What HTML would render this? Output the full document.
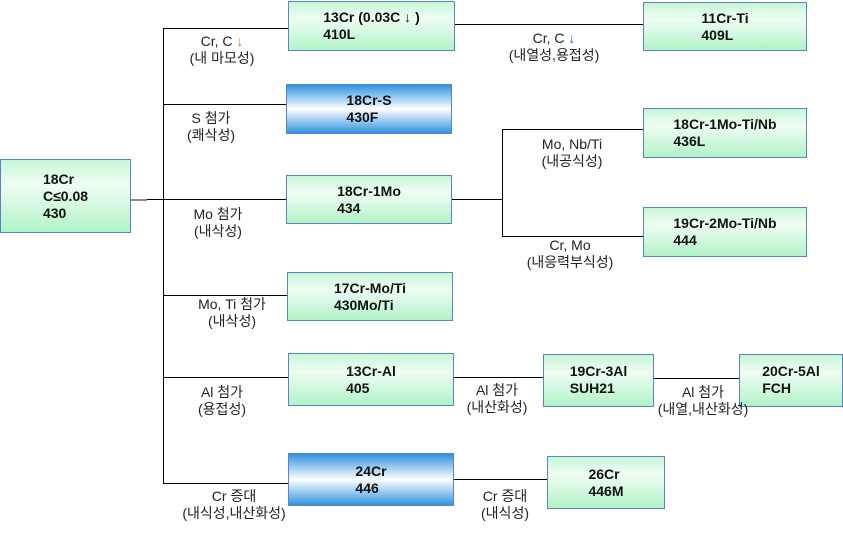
<!DOCTYPE html>
<html><head><meta charset="utf-8"><style>
body{margin:0;width:843px;height:535px;background:#fff;position:relative;overflow:hidden;font-family:"Liberation Sans","Noto Sans CJK KR",sans-serif}
.b{position:absolute;box-sizing:border-box;border:1.5px solid #5b84c4;display:flex;flex-direction:column;justify-content:center;align-items:center;font-weight:bold;font-size:14px;line-height:17px;color:#111;background:linear-gradient(#c8f7d8,#effdf3 35%,#b2f3c8)}
.bl{background:linear-gradient(#2f93e0,#fff 50%,#2f93e0)}
.h,.v{position:absolute;background:#000}
.h{height:1px}.v{width:1px}
.t{position:absolute;font-size:14px;line-height:17px;color:#222;text-align:center;white-space:nowrap;transform:translateX(-50%)}
</style></head><body>
<div class="v" style="left:163px;top:28px;height:456px"></div>
<div class="h" style="left:163px;top:28px;width:125px"></div>
<div class="h" style="left:163px;top:104px;width:123px"></div>
<div class="h" style="left:131px;top:199px;width:155px"></div>
<div class="h" style="left:131px;top:199px;width:16px;background:#888;height:2px"></div>
<div class="h" style="left:163px;top:295px;width:124px"></div>
<div class="h" style="left:163px;top:377px;width:125px"></div>
<div class="h" style="left:163px;top:483px;width:125px"></div>
<div class="h" style="left:455px;top:24px;width:188px"></div>
<div class="h" style="left:452px;top:199px;width:51px"></div>
<div class="v" style="left:502px;top:129px;height:108px"></div>
<div class="h" style="left:502px;top:129px;width:141px"></div>
<div class="h" style="left:502px;top:236px;width:141px"></div>
<div class="h" style="left:454px;top:377px;width:89px"></div>
<div class="h" style="left:654px;top:378px;width:85px"></div>
<div class="h" style="left:454px;top:479px;width:93px"></div>

<div class="b" style="left:0;top:159px;width:131px;height:74px">18Cr<br>C≤0.08<br>430</div>
<div class="b" style="left:288px;top:1px;width:167px;height:50px">13Cr (0.03C ↓ )<br>410L</div>
<div class="b bl" style="left:286px;top:84px;width:166px;height:50px">18Cr-S<br>430F</div>
<div class="b" style="left:286px;top:175px;width:166px;height:49px">18Cr-1Mo<br>434</div>
<div class="b" style="left:287px;top:272px;width:166px;height:49px">17Cr-Mo/Ti<br>430Mo/Ti</div>
<div class="b" style="left:288px;top:353px;width:166px;height:53px">13Cr-Al<br>405</div>
<div class="b bl" style="left:288px;top:453px;width:166px;height:53px">24Cr<br>446</div>
<div class="b" style="left:643px;top:2px;width:164px;height:49px">11Cr-Ti<br>409L</div>
<div class="b" style="left:643px;top:108px;width:164px;height:50px">18Cr-1Mo-Ti/Nb<br>436L</div>
<div class="b" style="left:643px;top:207px;width:164px;height:50px">19Cr-2Mo-Ti/Nb<br>444</div>
<div class="b" style="left:543px;top:354px;width:111px;height:53px;justify-content:flex-start;padding-top:8px">19Cr-3Al<br>SUH21</div>
<div class="b" style="left:739px;top:354px;width:104px;height:53px;justify-content:flex-start;padding-top:8px">20Cr-5Al<br>FCH</div>
<div class="b" style="left:547px;top:456px;width:118px;height:53px">26Cr<br>446M</div>

<div class="t" style="left:222px;top:33px">Cr, C <span style="color:#e07020">↓</span><br>(내 마모성)</div>
<div class="t" style="left:211px;top:110px">S 첨가<br>(쾌삭성)</div>
<div class="t" style="left:218px;top:206px">Mo 첨가<br>(내삭성)</div>
<div class="t" style="left:232px;top:296px">Mo, Ti 첨가<br>(내삭성)</div>
<div class="t" style="left:222px;top:384px">Al 첨가<br>(용접성)</div>
<div class="t" style="left:234px;top:488px">Cr 증대<br>(내식성,내산화성)</div>
<div class="t" style="left:554px;top:30px">Cr, C <span style="color:#2060c0">↓</span><br>(내열성,용접성)</div>
<div class="t" style="left:572px;top:136px">Mo, Nb/Ti<br>(내공식성)</div>
<div class="t" style="left:570px;top:237px">Cr, Mo<br>(내응력부식성)</div>
<div class="t" style="left:497px;top:382px">Al 첨가<br>(내산화성)</div>
<div class="t" style="left:703px;top:384px">Al 첨가<br>(내열,내산화성)</div>
<div class="t" style="left:505px;top:488px">Cr 증대<br>(내식성)</div>
</body></html>
